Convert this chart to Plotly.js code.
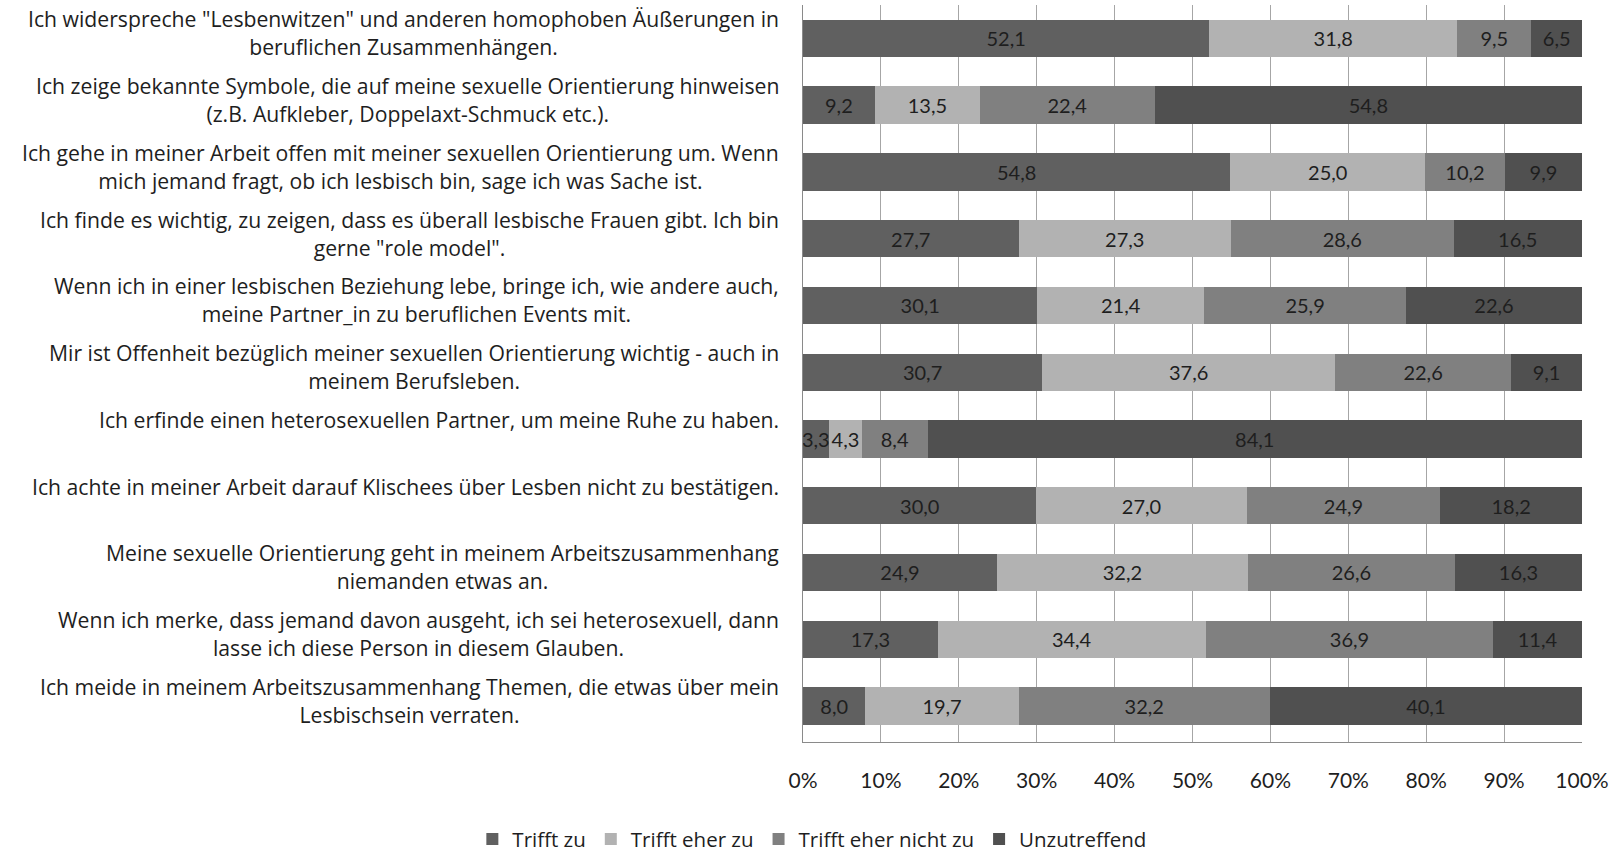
<!DOCTYPE html>
<html>
<head>
<meta charset="utf-8">
<script src="https://cdn.plot.ly/plotly-3.0.1.min.js"></script>
<style>
html,body{margin:0;padding:0;background:#fff;}
#chart{width:1616px;height:853px;}
</style>
</head>
<body>
<div id="chart"></div>
<script>
const categories = [
  'Ich widerspreche "Lesbenwitzen" und anderen homophoben Äußerungen in<br>beruflichen Zusammenhängen.',
  'Ich zeige bekannte Symbole, die auf meine sexuelle Orientierung hinweisen<br>(z.B. Aufkleber, Doppelaxt-Schmuck etc.).',
  'Ich gehe in meiner Arbeit offen mit meiner sexuellen Orientierung um. Wenn<br>mich jemand fragt, ob ich lesbisch bin, sage ich was Sache ist.',
  'Ich finde es wichtig, zu zeigen, dass es überall lesbische Frauen gibt. Ich bin<br>gerne "role model".',
  'Wenn ich in einer lesbischen Beziehung lebe, bringe ich, wie andere auch,<br>meine Partner_in zu beruflichen Events mit.',
  'Mir ist Offenheit bezüglich meiner sexuellen Orientierung wichtig - auch in<br>meinem Berufsleben.',
  'Ich erfinde einen heterosexuellen Partner, um meine Ruhe zu haben.',
  'Ich achte in meiner Arbeit darauf Klischees über Lesben nicht zu bestätigen.',
  'Meine sexuelle Orientierung geht in meinem Arbeitszusammenhang<br>niemanden etwas an.',
  'Wenn ich merke, dass jemand davon ausgeht, ich sei heterosexuell, dann<br>lasse ich diese Person in diesem Glauben.',
  'Ich meide in meinem Arbeitszusammenhang Themen, die etwas über mein<br>Lesbischsein verraten.'
];
const seriesNames = ['Trifft zu', 'Trifft eher zu', 'Trifft eher nicht zu', 'Unzutreffend'];
const triffZu          = [52.1,  9.2, 54.8, 27.7, 30.1, 30.7,  3.3, 30.0, 24.9, 17.3,  8.0];
const triffEherZu      = [31.8, 13.5, 25.0, 27.3, 21.4, 37.6,  4.3, 27.0, 32.2, 34.4, 19.7];
const triffEherNichtZu = [ 9.5, 22.4, 10.2, 28.6, 25.9, 22.6,  8.4, 24.9, 26.6, 36.9, 32.2];
const unzutreffend     = [ 6.5, 54.8,  9.9, 16.5, 22.6,  9.1, 84.1, 18.2, 16.3, 11.4, 40.1];
const tickVals = [0,10,20,30,40,50,60,70,80,90,100];
const tickText = ['0%','10%','20%','30%','40%','50%','60%','70%','80%','90%','100%'];

const colors = ['#606060', '#b2b2b2', '#808080', '#505050'];
const allSeries = [triffZu, triffEherZu, triffEherNichtZu, unzutreffend];
const FONT = '"Open Sans", Lato, sans-serif';
const NUMFONT = 'Lato, "Open Sans", sans-serif';
const ids = categories.map((c, i) => 'c' + i);

const traces = allSeries.map((vals, k) => ({
  type: 'bar',
  orientation: 'h',
  name: seriesNames[k],
  y: ids,
  x: vals,
  text: vals.map(v => v.toFixed(1).replace('.', ',')),
  texttemplate: '%{text}',
  textposition: 'inside',
  insidetextanchor: 'middle',
  textangle: 0,
  constraintext: 'none',
  textfont: {family: NUMFONT, size: 20, color: '#1e1e1e'},
  marker: {color: colors[k], line: {width: 0}},
  hoverinfo: 'skip'
}));

const annotations = categories.map((c, i) => ({
  xref: 'paper', yref: 'y',
  x: 0, y: ids[i],
  xanchor: 'right', yanchor: 'top',
  xshift: -22, yshift: 36,
  align: 'center',
  showarrow: false,
  text: c,
  font: {family: FONT, size: 21.2, color: '#1e1e1e'}
}));

const layout = {
  width: 1616, height: 853,
  margin: {l: 803, r: 34, t: 5, b: 111, pad: 0, autoexpand: false},
  paper_bgcolor: '#ffffff',
  plot_bgcolor: '#ffffff',
  barmode: 'stack',
  barnorm: 'percent',
  bargap: 0.44,
  showlegend: true,
  legend: {
    orientation: 'h',
    x: 0.012, xanchor: 'center',
    y: -0.132, yanchor: 'middle',
    font: {family: FONT, size: 20.5, color: '#1e1e1e'},
    itemwidth: 30,
    itemclick: false, itemdoubleclick: false,
    traceorder: 'normal'
  },
  xaxis: {
    range: [0, 100],
    tickvals: tickVals,
    ticktext: tickText,
    showgrid: true,
    gridcolor: '#a6a6a6',
    gridwidth: 1,
    showline: true,
    linecolor: '#8a8a8a',
    linewidth: 1,
    zeroline: false,
    ticks: '',
    ticklabelstandoff: 20,
    tickfont: {family: NUMFONT, size: 21, color: '#1e1e1e'},
    fixedrange: true
  },
  yaxis: {
    type: 'category',
    categoryorder: 'array',
    categoryarray: ids,
    autorange: 'reversed',
    showticklabels: false,
    showgrid: false,
    showline: true,
    linecolor: '#8a8a8a',
    linewidth: 1,
    ticks: '',
    zeroline: false,
    fixedrange: true
  },
  annotations: annotations
};

Plotly.newPlot('chart', traces, layout, {displayModeBar: false, staticPlot: true});
</script>
</body>
</html>
